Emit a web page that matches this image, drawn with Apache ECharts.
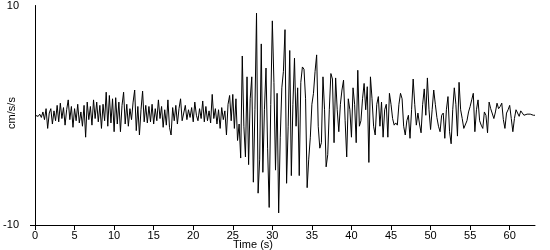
<!DOCTYPE html>
<html><head><meta charset="utf-8">
<script src="https://cdn.jsdelivr.net/npm/echarts@6/dist/echarts.min.js"></script>
<style>html,body{margin:0;padding:0;background:#fff}#c{width:550px;height:250px}</style>
</head><body><div id="c"></div>
<script>
// sample interval (s)
const dt = 0.2;
// acceleration samples (cm/s/s), 0 - 25.8 s
const accelEarly = [
 0,0.1,-0.1,0.1,-0.2, 0.3,-0.4,0.6,-1.2,0.2, 0.6,-0.8,0.4,-0.5,0.9, -0.6,1.1,-0.3,0.7,-0.9,
 0.5,1.4,-0.4,0.8,-1.1, 0.6,-0.5,1.0,-0.7,0.3, -1.0,0.9,-2.0,1.2,-0.4, 0.8,-0.9,1.4,-0.3,1.2,
 -0.6,0.9,-1.2,1.0,-0.5, 2.1,-1.0,1.8,-0.7,1.5, -1.5,1.6,-0.8,1.2,-1.5, 0.9,2.1,-0.8,1.0,-1.0,
 0.6,-0.4,1.2,2.3,-1.4, 0.8,-1.8,0.5,2.2,-0.6, 0.9,-0.7,0.8,-0.6,1.0, -0.8,0.6,-0.5,1.4,-0.3,
 0.8,-1.1,0.5,-0.9,1.4, -1.1,-1.8,0.7,-0.5,0.9, -0.8,0.6,1.5,-0.5,-0.6, 0.9,-0.4,0.5,-0.2,0.7,
 -0.6,1.2,0.0,-0.5,0.6, -0.3,1.3,-0.6,0.8,-0.5, 0.4,-0.7,1.9,-0.3,0.6, -0.8,0.5,-1.2,0.7,-0.4,
 0.4,-1.8,1.0,1.8,-0.5, 1.9,-1.2,1.5,-2.3,-0.8
];
// 26.0 - 44.8 s (strong motion)
const accelStrong = [
 -3.9,5.4,-1.0,-3.8,3.5, -4.5,1.5,3.5,-6.1,0.5, 9.3,-7.1,-4.0,6.5,-5.2, 0.5,4.3,-3.0,-8.4,1.0,
 8.6,3.0,-5.0,2.0,-8.9, -2.0,2.5,4.0,7.8,-6.2, -1.0,5.9,-5.5,1.0,5.2, -1.0,2.5,-5.5,3.0,4.4,
 4.2,1.5,-6.6,-4.0,-2.0, 1.0,2.0,4.0,5.5,-1.0, -3.0,-2.5,3.5,0.5,-4.7, -3.6,0.5,3.8,3.3,-2.5,
 3.4,0.5,-1.5,1.0,2.3, 3.2,-0.5,-3.8,1.5,0.5, -2.0,2.5,1.0,-2.5,4.1, -1.0,-0.5,1.5,2.9,0.5,
 2.6,-4.3,3.5,1.5,-1.0, -1.8,1.0,1.7,-1.0,1.2, -2.0,0.5,1.0,-2.0,2.0
];
// 45.0 - 63.2 s (coda)
const accelCoda = [
 1.0,-0.3,-0.9,-0.7,-0.9, 1.0,2.0,1.5,-1.0,-1.8, -0.5,0.0,-2.1,0.5,3.3, 1.0,-0.9,0.2,-0.8,-1.6,
 1.0,2.4,0.0,3.4,0.5, -1.3,0.5,2.3,1.0,-0.2, -1.0,-1.5,0.0,0.2,-2.1, 0.5,1.7,-1.5,-2.6,0.5,
 2.5,1.0,-1.9,3.0,0.5, -0.3,-1.2,-1.2,-0.5,0.3, 0.8,1.4,2.0,-1.5,0.5, 1.4,-0.5,-0.9,-1.2,0.3,
 0.0,-1.6,1.2,0.6,0.5, -0.3,0.3,1.1,0.6,0.8, 1.1,-0.4,-1.2,0.2,0.5, 0.9,-0.3,-1.5,-0.3,0.5,
 0.6,-0.1,0.4,0.2,0.0, 0.1,0.1,0.0,0.1,0.0, 0.0,0.0
];
const xTicks = [0,5,10,15,20,25,30,35,40,45,50,55,60];
const yLabels = [-10,10];
const yTickValues = [-10];

const accel = accelEarly.concat(accelStrong, accelCoda);
const seriesData = accel.map((v,i)=>[+(i*dt).toFixed(2), v]);
const FONT = 'Liberation Sans, Arial, sans-serif';

const chart = echarts.init(document.getElementById('c'), null, {renderer:'canvas'});
chart.setOption({
  animation:false,
  backgroundColor:'#fff',
  grid:{left:35,right:15,top:5,bottom:25,containLabel:false},
  xAxis:{type:'value',min:0,max:63.2,interval:5,
    axisLine:{onZero:false,lineStyle:{color:'#000',width:1}},
    axisTick:{show:true,length:5,inside:false,customValues:xTicks,lineStyle:{color:'#000'}},
    axisLabel:{customValues:xTicks,color:'#000',fontSize:11,fontFamily:FONT,margin:5},
    splitLine:{show:false}},
  yAxis:{type:'value',min:-10,max:10,interval:20,
    axisLine:{show:true,lineStyle:{color:'#000',width:1}},
    axisTick:{show:true,length:5,customValues:yTickValues,lineStyle:{color:'#000'}},
    axisLabel:{customValues:yLabels,color:'#000',fontSize:11,fontFamily:FONT,margin:16},
    splitLine:{show:false}},
  graphic:[
    {type:'text',x:253,y:245,style:{text:'Time (s)',fill:'#000',font:'11px '+FONT,textAlign:'center',textVerticalAlign:'middle'}},
    {type:'text',x:12,y:113,rotation:Math.PI/2,style:{text:'cm/s/s',fill:'#000',font:'11px '+FONT,textAlign:'center',textVerticalAlign:'middle'}}
  ],
  series:[{type:'line',data:seriesData,showSymbol:false,symbol:'none',
    lineStyle:{color:'#000',width:1},itemStyle:{color:'#000'}}]
});
</script></body></html>
